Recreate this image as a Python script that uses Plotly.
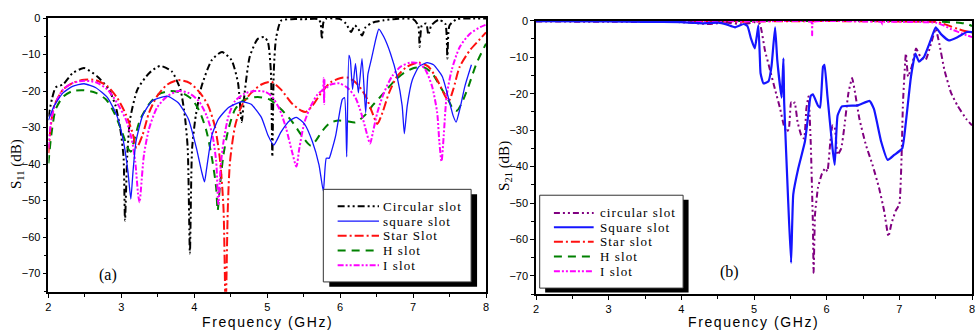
import plotly.graph_objects as go

W, H = 979, 333

# ---------------- (a) S11 data ----------------
circ11_f = [2.0, 2.05, 2.1, 2.2, 2.33, 2.49, 2.67, 2.83, 2.92, 2.99, 3.03, 3.05, 3.08, 3.12, 3.22, 3.38, 3.53, 3.69,
            3.81, 3.87, 3.91, 3.94, 3.97, 4.02, 4.10, 4.24, 4.38, 4.51, 4.6, 4.65, 4.69, 4.76, 4.87, 4.96, 5.01,
            5.05, 5.07, 5.09, 5.12, 5.19, 5.33, 5.5, 5.7, 5.73, 5.75, 5.77, 5.8, 6.0, 6.08, 6.15, 6.2, 6.25, 6.3,
            6.35, 6.45, 6.6, 6.8, 7.0, 7.07, 7.09, 7.12, 7.18, 7.21, 7.25, 7.35, 7.44, 7.47, 7.5, 7.6, 7.8, 8.0]
circ11_v = [-27, -22, -19, -18.2, -15.1, -13.7, -16, -19.6, -24, -31, -38, -55.5, -38, -27.7, -19.6, -15.1, -13.1, -14.6,
            -19.6, -26.8, -35.7, -64.5, -35.7, -26.8, -18.7, -11.5, -9.3, -11.5, -17.8, -28.5, -20.5, -10.6, -5.7, -5.2, -6.6,
            -14.6, -38, -14.6, -5.7, -0.7, -0.3, -0.3, -0.3, -1.2, -5.8, -1.2, -0.2, -0.3, -1.5, -3.8, -2, -3, -4.8,
            -2.5, -1.2, -0.6, -0.2, -0.3, -2, -7.9, -2, -1.5, -4.6, -2, -0.5, -1.5, -11.1, -2, -0.3, -0.1, -0.1]

sq11_f = [2.0, 2.08, 2.2, 2.33, 2.49, 2.65, 2.81, 2.94, 3.03, 3.09, 3.13, 3.16, 3.2, 3.29, 3.42, 3.63, 3.78, 3.92,
          4.03, 4.1, 4.14, 4.17, 4.24, 4.33, 4.47, 4.65, 4.78, 4.92, 5.01, 5.09, 5.19, 5.31, 5.40, 5.51, 5.62,
          5.71, 5.77, 5.81, 5.85, 5.88, 5.94, 6.0, 6.03, 6.06, 6.09, 6.12, 6.14, 6.17, 6.21, 6.25, 6.30, 6.35,
          6.38, 6.43, 6.49, 6.53, 6.6, 6.69, 6.78, 6.85, 6.88, 6.92, 6.99, 7.08, 7.19, 7.28, 7.40, 7.49, 7.55,
          7.59, 7.64, 7.71, 7.8]
sq11_v = [-28, -24, -20.5, -18.7, -18, -19.1, -21.8, -26.8, -33.9, -42, -49.6, -42, -33.9, -26.8, -22.7, -21.4, -23.2, -27.7,
          -35.7, -42, -44.9, -41.1, -32.2, -27.7, -24.5, -22.9, -23.6, -27.2, -32.1, -34.8, -31.2, -28.1, -27.2, -29, -33.9,
          -40.2, -47.5, -38.4, -38.4, -36.6, -32.1, -25, -22.3, -21.8, -38, -10.2, -11.5, -19.6, -12.4, -20.5, -11.1, -25.9,
          -15.5, -11.1, -5.7, -3, -5.2, -9.7, -16, -24, -31.7, -24, -16.9, -13.3, -12.2, -12.8, -16, -22.3, -26.8,
          -28.5, -25, -18.7, -12.8]

star11_f = [2.0, 2.03, 2.08, 2.2, 2.33, 2.49, 2.65, 2.81, 2.94, 3.06, 3.15, 3.21, 3.29, 3.38, 3.49, 3.63, 3.78, 3.94,
            4.08, 4.19, 4.28, 4.35, 4.40, 4.43, 4.46, 4.49, 4.56, 4.65, 4.78, 4.92, 5.06, 5.19, 5.33, 5.47, 5.53,
            5.62, 5.74, 5.87, 6.01, 6.12, 6.24, 6.35, 6.44, 6.51, 6.58, 6.67, 6.78, 6.92, 7.08, 7.21, 7.33, 7.44,
            7.49, 7.55, 7.64, 7.78, 7.92, 8.0]
star11_v = [-37, -30, -24, -19.6, -17.8, -16.9, -17, -18.7, -21.8, -26.3, -31.2, -35.5, -32.1, -25.9, -21.4, -18.2, -17, -17.8,
            -20.5, -24, -29.5, -38.4, -51.9, -80, -51.9, -39.3, -29.5, -24, -20.5, -18.2, -17.5, -19.6, -23.2, -25.4, -25.7,
            -24, -20.5, -17.6, -16.4, -16.4, -18.2, -21.4, -25.9, -29, -25.9, -20.5, -16, -13.3, -12.2, -13.3, -16.9, -21.4,
            -22.7, -19.6, -13.3, -8.8, -5.7, -3.9]

h11_f = [2.0, 2.04, 2.1, 2.2, 2.33, 2.49, 2.65, 2.79, 2.9, 3.01, 3.09, 3.13, 3.17, 3.26, 3.38, 3.51, 3.67, 3.83, 3.97,
         4.08, 4.17, 4.25, 4.3, 4.32, 4.35, 4.4, 4.47, 4.56, 4.69, 4.87, 5.03, 5.19, 5.33, 5.47, 5.56, 5.6, 5.67,
         5.76, 5.87, 5.99, 6.1, 6.21, 6.33, 6.46, 6.6, 6.74, 6.87, 7.01, 7.15, 7.26, 7.37, 7.49, 7.55, 7.6, 7.67,
         7.76, 7.87, 8.0]
h11_v = [-39.8, -32, -25, -21.6, -20, -19.8, -20.5, -22.3, -25.9, -31.2, -35.7, -36.6, -33.9, -27.7, -23.6, -20.9, -20, -20.5, -22.3,
         -25.9, -31.2, -39.3, -46.5, -52.8, -46.5, -37.5, -30.3, -25, -22.3, -21.6, -22.3, -25, -28.1, -32.1, -34.4, -35, -33.5,
         -30.8, -28.6, -28.1, -28.3, -28.6, -26.8, -23.6, -20.5, -17.3, -15.1, -13.7, -13.5, -15.1, -18.7, -22.7, -25, -25.4, -23.2,
         -18.7, -12.4, -7]

i11_f = [2.0, 2.04, 2.1, 2.2, 2.33, 2.49, 2.65, 2.81, 2.94, 3.06, 3.14, 3.19, 3.23, 3.25, 3.27, 3.31, 3.38, 3.49, 3.63,
         3.78, 3.92, 4.06, 4.17, 4.25, 4.3, 4.33, 4.36, 4.4, 4.47, 4.56, 4.69, 4.83, 4.97, 5.06, 5.17, 5.26, 5.34,
         5.40, 5.44, 5.51, 5.6, 5.69, 5.76, 5.775, 5.78, 5.785, 5.79, 5.87, 5.99, 6.1, 6.21, 6.3, 6.36, 6.41, 6.45,
         6.51, 6.6, 6.71, 6.83, 6.96, 7.08, 7.17, 7.26, 7.33, 7.36, 7.39, 7.42, 7.46, 7.53, 7.64, 7.78, 7.92, 8.0]
i11_v = [-35.7, -27.7, -23.2, -19.6, -17.8, -17.2, -17.6, -19.6, -23.2, -27.7, -33, -39.3, -48.3, -50.5, -46.5, -37.5, -30.3, -24.5, -21.4,
         -20, -20.5, -22.7, -26.8, -32.2, -39.3, -51, -41.1, -33.9, -26.8, -22.7, -20.7, -20, -20.2, -21.4, -25, -30.3, -36.6,
         -40.7, -35.7, -28.6, -24, -20.9, -19.6, -16.5, -23.5, -17, -19.3, -18.2, -17.9, -19.1, -21.8, -26.8, -31.2, -34.4, -31.2,
         -25.9, -20.5, -16, -13.3, -12.2, -12.4, -14.2, -18.7, -25.9, -33.9, -39.3, -32.2, -21.4, -14.2, -7.9, -4.3, -2.5, -1.8]

# ---------------- (b) S21 data ----------------
circ21_f = [2.0, 3.0, 4.0, 4.38, 4.6, 4.85, 4.95, 5.01, 5.08, 5.15, 5.22, 5.29, 5.36, 5.41, 5.45, 5.48, 5.51, 5.54, 5.56,
            5.6, 5.65, 5.69, 5.72, 5.75, 5.78, 5.81, 5.82, 5.84, 5.88, 5.93, 5.98, 6.01, 6.05, 6.08, 6.11, 6.15,
            6.2, 6.24, 6.3, 6.35, 6.39, 6.45, 6.54, 6.63, 6.72, 6.79, 6.85, 6.89, 6.95, 7.0, 7.03, 7.05, 7.09, 7.12,
            7.17, 7.23, 7.29, 7.36, 7.43, 7.5, 7.55, 7.62, 7.71, 7.8, 7.92, 8.0]
circ21_v = [-0.2, -0.3, -0.4, -0.9, -0.5, -1.0, -0.6, -0.4, -0.9, -8.1, -13.5, -18.9, -24.2, -28.7, -30.5, -29.6, -22.4, -22.9, -22.4,
            -27.8, -31.4, -32.3, -24.2, -20.8, -33.2, -55.7, -69.1, -53, -45.8, -42.2, -40.4, -41.3, -33.2, -28.7, -29.2, -36.8,
            -35, -29.6, -19.7, -15.7, -19.7, -26.9, -34.1, -39.5, -45.8, -52.1, -59.2, -55.7, -52.1, -50.3, -37.7, -22.4, -9, -15.3,
            -12.6, -7.6, -9.9, -10.8, -6.7, -2.2, -6.3, -13.5, -19.7, -23.3, -26.9, -28.7]

sq21_f = [2.0, 3.0, 3.5, 4.0, 4.3, 4.51, 4.62, 4.74, 4.86, 4.91, 4.96, 5.01, 5.04, 5.06, 5.08, 5.09, 5.13, 5.2, 5.24,
          5.29, 5.32, 5.38, 5.405, 5.415, 5.47, 5.51, 5.54, 5.61, 5.70, 5.74, 5.78, 5.81, 5.88, 5.91, 5.95, 5.97,
          6.01, 6.08, 6.11, 6.15, 6.21, 6.43, 6.59, 6.65, 6.75, 6.84, 6.93, 7.04, 7.09, 7.16, 7.22, 7.27, 7.34,
          7.43, 7.5, 7.57, 7.68, 7.8, 7.93, 8.0]
sq21_v = [-0.1, -0.2, -0.3, -0.4, -0.7, -0.5, -1.0, -1.8, -0.9, -1.5, -5, -7.6, -4, -1.3, -10, -14.4, -17.2, -16.6, -12.6,
          -1.8, -10.8, -21.1, -10.3, -22.4, -49.4, -66.4, -47.6, -40.4, -33.2, -26.9, -20.6, -20.2, -23.3, -23.8, -12.6, -12.1,
          -20.6, -35, -39.5, -26, -23.5, -23.2, -22, -24.2, -33.2, -38.2, -36.8, -35, -27.8, -15.3, -9, -11.2, -9.9,
          -5.4, -1.8, -3.6, -5.4, -4.5, -3.1, -3.1]

star21_f = [2.0, 3.0, 4.0, 4.8, 5.0, 6.0, 7.0, 7.5, 7.6, 7.7, 7.8, 7.9, 8.0]
star21_v = [-0.1, -0.1, -0.1, -0.3, -0.2, -0.1, -0.2, -0.3, -0.8, -1.5, -2.2, -2.8, -3.2]

h21_f = [2.0, 3.0, 4.0, 5.0, 6.0, 7.0, 7.5, 7.7, 7.85, 7.95, 8.0]
h21_v = [-0.1, -0.1, -0.1, -0.1, -0.1, -0.1, -0.2, -0.4, -0.6, -1.0, -1.5]

i21_f = [2.0, 3.0, 4.0, 5.0, 5.79, 5.8, 5.81, 6.5, 6.75, 6.77, 6.79, 7.0, 7.5, 7.6, 7.7, 7.8, 7.9, 8.0]
i21_v = [-0.1, -0.1, -0.1, -0.2, -0.3, -4.0, -0.3, -0.2, -0.3, -1.0, -0.3, -0.3, -0.5, -1.2, -2.2, -3.0, -3.8, -4.5]

legend_a = ["Circular slot", "square slot", "Star Slot", "H slot", "I slot"]
legend_b = ["circular slot", "Square slot", "Star slot", "H slot", "I slot"]

x_ticks = [2, 3, 4, 5, 6, 7, 8]
y_ticks = [0, -10, -20, -30, -40, -50, -60, -70]

# ---------------- styles ----------------
DASH_CIRC = "7px,3px,2px,3px,2px,3px"
DASH_STAR = "9px,3px,2px,3px"
DASH_H = "8px,6px"
DASH_I = "6px,2px,2px,2px,2px,2px"
BLACK, BLUE, RED, GREEN, MAG, PURP = "#000000", "#1515ff", "#ff1010", "#008000", "#ff00ff", "#800080"

fig = go.Figure()

def add(xs, ys, name, color, dash, width, xa, ya, smooth=0.7):
    fig.add_trace(go.Scatter(x=xs, y=ys, name=name, mode="lines", showlegend=False,
                             line=dict(color=color, dash=dash, width=width, shape="spline", smoothing=smooth),
                             xaxis=xa, yaxis=ya))

add(circ11_f, circ11_v, legend_a[0], BLACK, DASH_CIRC, 2.0, "x", "y", 0.6)
add(h11_f, h11_v, legend_a[3], GREEN, DASH_H, 2.0, "x", "y")
add(star11_f, star11_v, legend_a[2], RED, DASH_STAR, 2.0, "x", "y")
add(i11_f, i11_v, legend_a[4], MAG, DASH_I, 2.0, "x", "y")
add(sq11_f, sq11_v, legend_a[1], BLUE, "solid", 1.3, "x", "y", 0.5)

add(h21_f, h21_v, legend_b[3], GREEN, DASH_H, 2.0, "x2", "y2")
add(star21_f, star21_v, legend_b[2], RED, DASH_STAR, 2.0, "x2", "y2")
add(i21_f, i21_v, legend_b[4], MAG, DASH_I, 2.0, "x2", "y2", 0.3)
add(circ21_f, circ21_v, legend_b[0], PURP, "6px,3px,2px,3px,2px,3px", 2.0, "x2", "y2", 0.4)
add(sq21_f, sq21_v, legend_b[1], BLUE, "solid", 2.2, "x2", "y2", 0.4)

def px(x):
    return x / W

def py(y):
    return 1 - y / H

tickfont = dict(family="Liberation Sans, Arial", size=11, color="black")

def xaxis_cfg(dom, anchor):
    return dict(domain=dom, range=[2, 8], tickvals=x_ticks, ticks="outside", ticklen=4, tickwidth=1.2,
                tickcolor="black", showline=True, linecolor="black", linewidth=1.5, mirror=True,
                showgrid=False, zeroline=False, tickfont=tickfont, anchor=anchor,
                minor=dict(dtick=0.5, tick0=2, ticks="outside", ticklen=3, tickcolor="black"))

def yaxis_cfg(dom, anchor):
    return dict(domain=dom, range=[-75, 0], tickvals=y_ticks, ticks="outside", ticklen=4, tickwidth=1.2,
                tickcolor="black", showline=True, linecolor="black", linewidth=1.5, mirror=True,
                showgrid=False, zeroline=False, tickfont=tickfont, anchor=anchor,
                minor=dict(dtick=5, tick0=0, ticks="outside", ticklen=3, tickcolor="black"))

fig.update_layout(
    width=W, height=H, margin=dict(l=0, r=0, t=0, b=0),
    paper_bgcolor="white", plot_bgcolor="white",
    xaxis=xaxis_cfg([px(45.7), px(486)], "y"),
    yaxis=yaxis_cfg([py(291), py(12.3)], "x"),
    xaxis2=xaxis_cfg([px(536.3), px(975)], "y2"),
    yaxis2=yaxis_cfg([py(293.5), py(15)], "x2"),
)

shapes = []
annotations = []

def legend_box(x0, x1, y0, y1, dx, dy, line_x0, line_x1, text_x, rows, names, styles):
    shapes.append(dict(type="rect", xref="paper", yref="paper", x0=px(x0 + dx), x1=px(x1 + dx),
                       y0=py(y1 + dy), y1=py(y0 + dy), fillcolor="black", line=dict(width=0), layer="above"))
    shapes.append(dict(type="rect", xref="paper", yref="paper", x0=px(x0), x1=px(x1), y0=py(y1), y1=py(y0),
                       fillcolor="white", line=dict(color="#333333", width=1), layer="above"))
    for r, n, (c, d, w) in zip(rows, names, styles):
        shapes.append(dict(type="line", xref="paper", yref="paper", x0=px(line_x0), x1=px(line_x1),
                           y0=py(r), y1=py(r), line=dict(color=c, dash=d, width=w), layer="above"))
        annotations.append(dict(xref="paper", yref="paper", x=px(text_x), y=py(r), xanchor="left", yanchor="middle",
                                showarrow=False,
                                text="<span style='letter-spacing:1.1px'>%s</span>" % n,
                                font=dict(family="Liberation Serif, Times New Roman", size=13, color="black")))

legend_box(322.3, 471, 186.7, 281, 6, 5, 336.7, 378.3, 380.7, [204, 219, 234, 249, 264], legend_a,
           [(BLACK, DASH_CIRC, 2), (BLUE, "solid", 1.3), (RED, DASH_STAR, 2), (GREEN, DASH_H, 2), (MAG, DASH_I, 2)])
legend_box(540, 684.3, 192.7, 287.3, 5.5, 4.5, 554.3, 594.3, 598.3, [210.7, 225.3, 240, 255, 270], legend_b,
           [(PURP, "6px,3px,2px,3px,2px,3px", 2), (BLUE, "solid", 2.2), (RED, DASH_STAR, 2), (GREEN, DASH_H, 2), (MAG, DASH_I, 2)])

title_font = dict(family="Liberation Sans, Arial", size=14, color="black")
for cx in (266.5, 755.3):
    annotations.append(dict(xref="paper", yref="paper", x=px(cx), y=py(321.5), xanchor="center", yanchor="middle",
                            showarrow=False, text="<span style='letter-spacing:1.6px'>Frequency (GHz)</span>",
                            font=title_font))

serif = dict(family="Liberation Serif, Times New Roman", size=15, color="black")
annotations.append(dict(xref="paper", yref="paper", x=px(14), y=py(161), xanchor="center", yanchor="middle",
                        showarrow=False, textangle=-90, text="S<sub>11</sub> (dB)", font=serif))
annotations.append(dict(xref="paper", yref="paper", x=px(505), y=py(163), xanchor="center", yanchor="middle",
                        showarrow=False, textangle=-90, text="S<sub>21</sub> (dB)", font=serif))
annotations.append(dict(xref="paper", yref="paper", x=px(106), y=py(273.5), xanchor="center", yanchor="middle",
                        showarrow=False, text="(a)", font=dict(family="Liberation Serif", size=16, color="black")))
annotations.append(dict(xref="paper", yref="paper", x=px(730.7), y=py(270.5), xanchor="center", yanchor="middle",
                        showarrow=False, text="(b)", font=dict(family="Liberation Serif", size=16, color="black")))

fig.update_layout(shapes=shapes, annotations=annotations)
fig.write_html("out.html", config={"displayModeBar": False},
               post_script="document.body.style.margin='0';document.body.style.overflow='hidden';")
